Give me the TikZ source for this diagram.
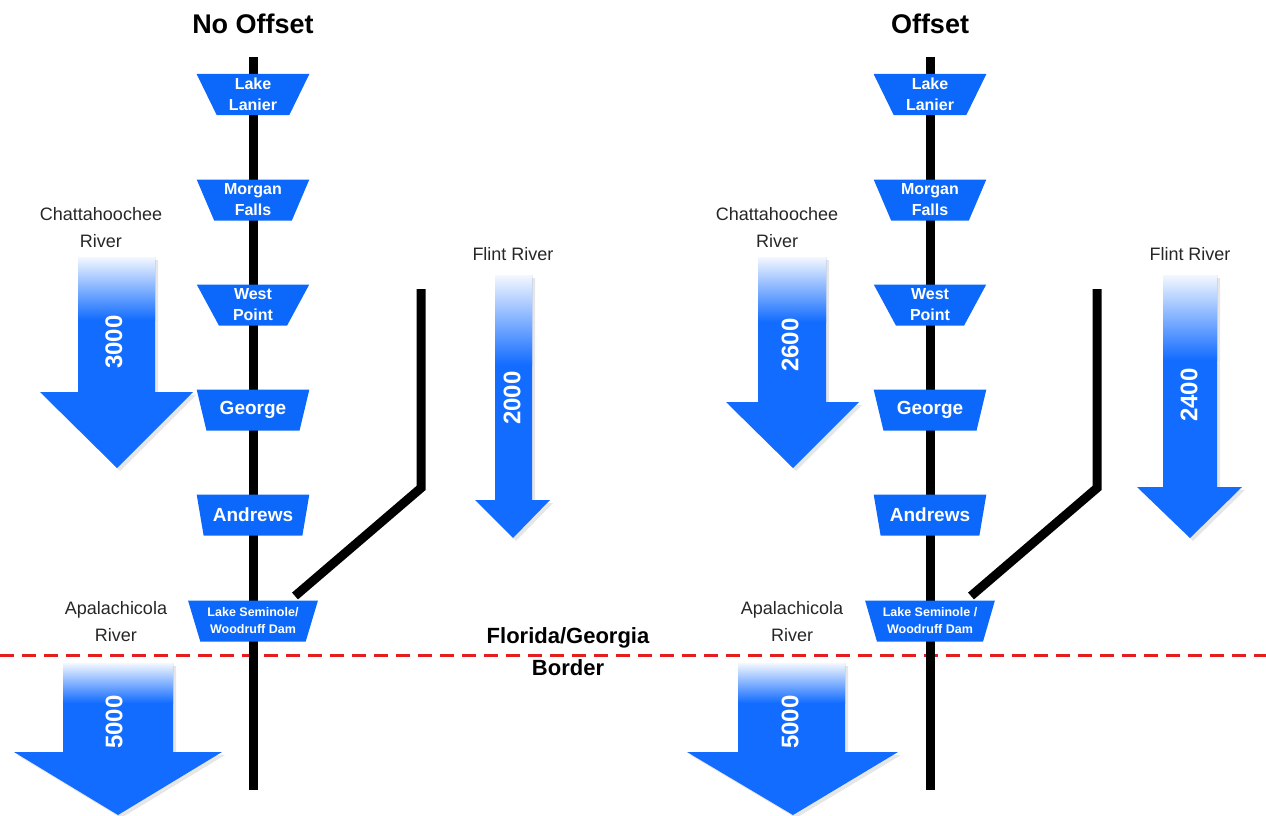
\documentclass[tikz,border=0pt]{standalone}
\usepackage{fontspec}
\setmainfont{Liberation Sans}
\usetikzlibrary{shapes.geometric,shadows}
\definecolor{damblue}{RGB}{12,104,250}
\definecolor{flowblue}{RGB}{18,108,255}
\definecolor{borderred}{RGB}{228,30,30}
\begin{document}
\begin{tikzpicture}[
        x=1pt, y=-1pt,
        river line/.style={line width=9pt},
        border line/.style={borderred, line width=3pt, dash pattern=on 14pt off 8pt},
        dam/.style={trapezium, trapezium stretches=true, shape border rotate=180,
            trapezium angle=68, minimum width=113, minimum height=41,
            fill=damblue, text=white, align=center, inner sep=0pt,
            font=\bfseries\fontsize{16}{21}\selectfont},
        big dam/.style={dam, font=\bfseries\fontsize{19}{21}\selectfont},
        wide dam/.style={dam, minimum width=130, font=\bfseries\fontsize{12.5}{17}\selectfont},
        flow/.style={fill=flowblue, drop shadow={opacity=0.2, shadow xshift=3pt, shadow yshift=-3pt}},
        fade/.style={top color=flowblue!5, bottom color=flowblue},
        amount/.style={rotate=90, text=white, font=\bfseries\fontsize{24}{24}\selectfont},
        label/.style={text=black!85, align=center, font=\fontsize{18}{27}\selectfont},
        title/.style={font=\bfseries\fontsize{27}{27}\selectfont}
        ]
        \useasboundingbox (0,0) rectangle (1266,816);
        % Border
        \coordinate (bwest) at (0,655);
        \coordinate (beast) at (1266,655);
        \draw[border line] (bwest) -- (beast);
        \node (border) at (568,652) [align=center, font=\bfseries\fontsize{22}{32}\selectfont] {Florida/Georgia\\Border};

        %% No Offset
        \node (ltitle) at (253,24) [title] {No Offset};
        % Rivers
        \coordinate (ltop) at (253,57);
        \coordinate (lbot) at (253,790);
        \draw[river line] (ltop) -- (lbot);
        \coordinate (lflint) at (421,289);
        \coordinate (lbend) at (421,488);
        \coordinate (ljoin) at (295,596);
        \draw[river line, line join=miter] (lflint) -- (lbend) -- (ljoin);
        % Dams
        \node (llanier) at (253,94.5) [dam] {Lake\\Lanier};
        \node (lmorgan) at (253,200) [dam] {Morgan\\Falls};
        \node (lwest) at (253,305) [dam] {West\\Point};
        \node (lgeorge) at (253,410) [big dam] {George};
        \node (landrews) at (253,515) [big dam] {Andrews};
        \node (lseminole) at (253,621) [wide dam] {Lake Seminole/\\Woodruff Dam};
        % Flows
        \node (lchatt) at (101,228) [label] {Chattahoochee\\River};
        \fill[flow] (78,257) -- (155,257) -- (155,392) -- (193,392) -- (117,468) -- (40,392) -- (78,392) -- cycle;
        \shade[fade] (78,257) rectangle (155,320);
        \node (lchattq) at (114,342) [amount] {3000};
        \node (lflintl) at (513,254) [label] {Flint River};
        \fill[flow] (495,275) -- (532,275) -- (532,500) -- (550,500) -- (513,538) -- (475,500) -- (495,500) -- cycle;
        \shade[fade] (495,275) rectangle (532,365);
        \node (lflintq) at (512,398) [amount] {2000};
        \node (lapal) at (116,622) [label] {Apalachicola\\River};
        \fill[flow] (63,663) -- (173,663) -- (173,752) -- (222,752) -- (118,815) -- (14,752) -- (63,752) -- cycle;
        \shade[fade] (63,663) rectangle (173,703);
        \node (lapalq) at (114,722) [amount] {5000};

        %% Offset
        \node (rtitle) at (930,24) [title] {Offset};
        % Rivers
        \coordinate (rtop) at (930,57);
        \coordinate (rbot) at (930,790);
        \draw[river line] (rtop) -- (rbot);
        \coordinate (rflint) at (1097,289);
        \coordinate (rbend) at (1097,488);
        \coordinate (rjoin) at (971,596);
        \draw[river line, line join=miter] (rflint) -- (rbend) -- (rjoin);
        % Dams
        \node (rlanier) at (930,94.5) [dam] {Lake\\Lanier};
        \node (rmorgan) at (930,200) [dam] {Morgan\\Falls};
        \node (rwest) at (930,305) [dam] {West\\Point};
        \node (rgeorge) at (930,410) [big dam] {George};
        \node (randrews) at (930,515) [big dam] {Andrews};
        \node (rseminole) at (930,621) [wide dam] {Lake Seminole /\\Woodruff Dam};
        % Flows
        \node (rchatt) at (777,228) [label] {Chattahoochee\\River};
        \fill[flow] (758,257) -- (826,257) -- (826,402) -- (859,402) -- (793,468) -- (726,402) -- (758,402) -- cycle;
        \shade[fade] (758,257) rectangle (826,322);
        \node (rchattq) at (790,345) [amount] {2600};
        \node (rflintl) at (1190,254) [label] {Flint River};
        \fill[flow] (1163,275) -- (1217,275) -- (1217,487) -- (1242,487) -- (1190,538) -- (1137,487) -- (1163,487) -- cycle;
        \shade[fade] (1163,275) rectangle (1217,360);
        \node (rflintq) at (1189,395) [amount] {2400};
        \node (rapal) at (792,622) [label] {Apalachicola\\River};
        \fill[flow] (738,663) -- (845,663) -- (845,752) -- (898,752) -- (793,815) -- (687,752) -- (738,752) -- cycle;
        \shade[fade] (738,663) rectangle (845,703);
        \node (rapalq) at (790,722) [amount] {5000};
    \end{tikzpicture}
\end{document}
